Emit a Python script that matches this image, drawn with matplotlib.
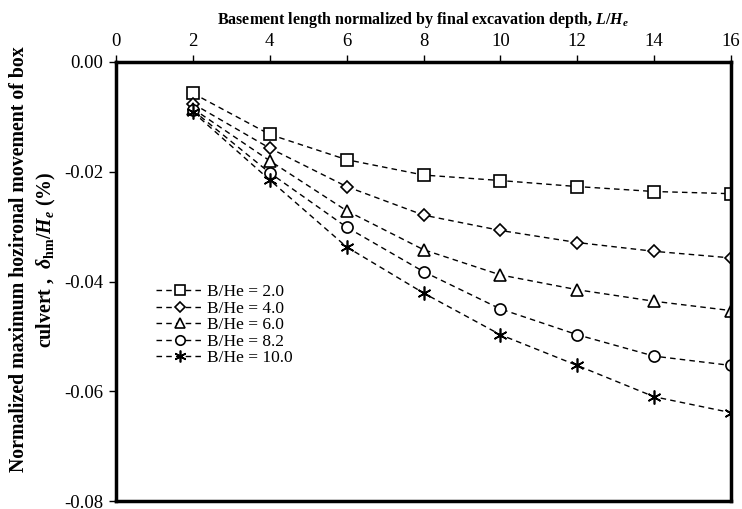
import numpy as np
import matplotlib
matplotlib.use("Agg")
import matplotlib.pyplot as plt
from matplotlib.ticker import FormatStrFormatter

plt.rcParams['font.family'] = ['Liberation Serif', 'DejaVu Serif']
plt.rcParams['axes.unicode_minus'] = False
plt.rcParams['mathtext.fontset'] = 'custom'
plt.rcParams['mathtext.rm'] = 'Liberation Serif:bold'
plt.rcParams['mathtext.it'] = 'Liberation Serif:italic:bold'
plt.rcParams['mathtext.bf'] = 'Liberation Serif:bold'

# L/He ratios
l_he = [2, 4, 6, 8, 10, 12, 14, 16]

# normalized max horizontal movement (%) for each B/He
bhe_20 = [-0.0057, -0.0132, -0.0178, -0.0206, -0.0216, -0.0227, -0.0236, -0.0240]
bhe_40 = [-0.0076, -0.0157, -0.0227, -0.0279, -0.0307, -0.0329, -0.0345, -0.0357]
bhe_60 = [-0.0085, -0.0180, -0.0271, -0.0342, -0.0388, -0.0415, -0.0436, -0.0453]
bhe_82 = [-0.0088, -0.0202, -0.0301, -0.0382, -0.0450, -0.0497, -0.0536, -0.0553]
bhe_100 = [-0.0091, -0.0215, -0.0337, -0.0421, -0.0497, -0.0553, -0.0610, -0.0639]

series = [bhe_20, bhe_40, bhe_60, bhe_82, bhe_100]
labels = ['B/He = 2.0', 'B/He = 4.0', 'B/He = 6.0', 'B/He = 8.2', 'B/He = 10.0']
markers = ['s', 'D', '^', 'o', (6, 2, 0)]
sizes = [8, 6, 8, 8, 10]

fig = plt.figure(figsize=(7.42, 5.09), dpi=100)
ax = fig.add_axes([116/742, 1-501/509, (731-116)/742, (501-62)/509])

for ys, lab, m, s in zip(series, labels, markers, sizes):
    ax.plot(l_he, ys, linestyle='--', dashes=(4, 3), color='black', linewidth=1,
            marker=m, markersize=s, markerfacecolor='white', markeredgecolor='black',
            markeredgewidth=1.2, label=lab)

ax.set_xlim(0, 16)
ax.set_ylim(-0.08, 0.0)
ax.set_xticks(np.arange(0, 17, 2))
ax.set_yticks(np.arange(-0.08, 0.001, 0.02))
ax.yaxis.set_major_formatter(FormatStrFormatter('%.2f'))

ax.xaxis.tick_top()
ax.xaxis.set_label_position('top')
ax.tick_params(axis='both', direction='out', length=5, width=1, labelsize=13.5, pad=4)
for sp in ax.spines.values():
    sp.set_linewidth(2.5)

ax.set_xlabel(r'Basement length normalized by final excavation depth, $L/H_e$',
              fontsize=11.5, fontweight='bold', labelpad=6)
ax.set_ylabel('Normalized maximum hozironal movement of box\n'
              r'culvert ,  $\delta_{\rm hm}/H_e$ (%)',
              fontsize=14.3, fontweight='bold', linespacing=1.4)
ax.yaxis.set_label_coords(-0.094, 0.55)

ax.legend(loc='center left', bbox_to_anchor=(0.04, 0.40), frameon=False, fontsize=12.5,
          handlelength=2.7, labelspacing=0.02, handletextpad=0.25, markerscale=0.85)

fig.savefig('out.png', dpi=100)
